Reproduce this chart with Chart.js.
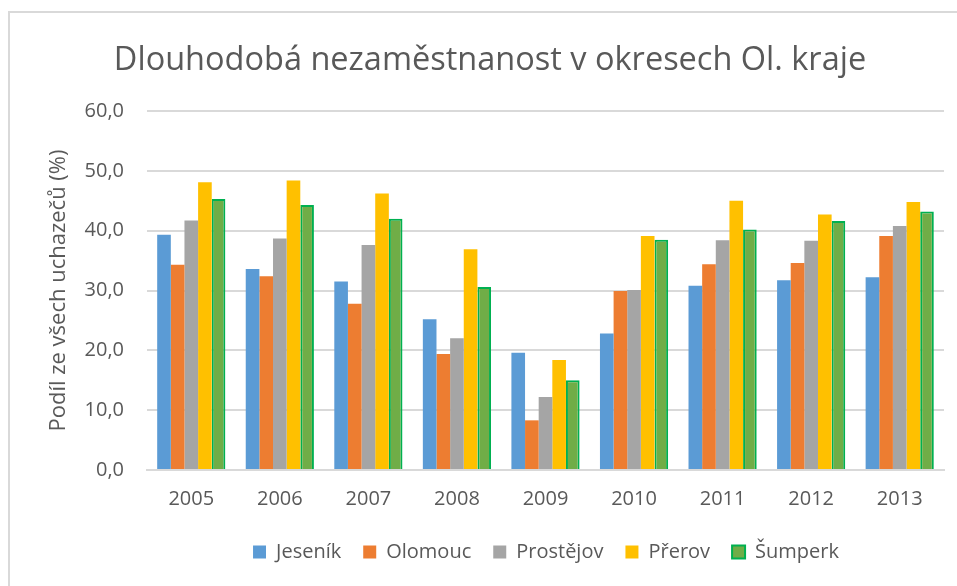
<!DOCTYPE html>
<html lang="cs">
<head>
    <meta charset="UTF-8">
    <title>Dlouhodobá nezaměstnanost v okresech Ol. kraje</title>
    <style>
        body {
            margin: 0;
            background: #ffffff;
            overflow: hidden;
        }
        .frame {
            position: absolute;
            left: 8px;
            top: 11px;
            width: 1000px;
            height: 700px;
            border: 2px solid #d9d9d9;
        }
        .chart-box {
            position: absolute;
            left: 0;
            top: 0;
            width: 957px;
            height: 586px;
        }
    </style>
</head>
<body>
    <div class="frame"></div>
    <div class="chart-box">
        <canvas id="nezamestnanost"></canvas>
    </div>
    <script src="https://cdn.jsdelivr.net/npm/chart.js"></script>
    <script>
        const years = ['2005', '2006', '2007', '2008', '2009', '2010', '2011', '2012', '2013'];
        const jesenik   = [39.3, 33.6, 31.5, 25.2, 19.6, 22.8, 30.8, 31.7, 32.2];
        const olomouc   = [34.3, 32.4, 27.8, 19.4, 8.3, 29.9, 34.4, 34.6, 39.1];
        const prostejov = [41.7, 38.7, 37.6, 22.0, 12.2, 30.1, 38.4, 38.3, 40.8];
        const prerov    = [48.1, 48.4, 46.2, 36.9, 18.4, 39.1, 45.0, 42.7, 44.8];
        const sumperk   = [45.3, 44.3, 42.0, 30.6, 15.0, 38.5, 40.2, 41.6, 43.2];

        const textColor = '#595959';
        const fontFamily = '"Open Sans", "Noto Sans", sans-serif';

        // legend in the original sits under the plot area, not the whole canvas
        const shiftLegend = {
            id: 'shiftLegend',
            afterLayout(chart) {
                const lg = chart.legend;
                if (lg) {
                    lg.left += 56;
                    lg.right += 56;
                }
            }
        };

        const ctx = document.getElementById('nezamestnanost').getContext('2d');
        new Chart(ctx, {
            type: 'bar',
            data: {
                labels: years,
                datasets: [
                    { label: 'Jeseník', data: jesenik, backgroundColor: '#5b9bd5' },
                    { label: 'Olomouc', data: olomouc, backgroundColor: '#ed7d31' },
                    { label: 'Prostějov', data: prostejov, backgroundColor: '#a5a5a5' },
                    { label: 'Přerov', data: prerov, backgroundColor: '#ffc000' },
                    { label: 'Šumperk', data: sumperk, backgroundColor: '#70ad47', borderColor: '#00b050', borderWidth: 2 }
                ]
            },
            options: {
                responsive: true,
                maintainAspectRatio: false,
                animation: false,
                datasets: {
                    bar: { categoryPercentage: 0.77, barPercentage: 1.0 }
                },
                layout: {
                    padding: { left: 36, right: 13, top: 0, bottom: 14 }
                },
                plugins: {
                    title: {
                        display: true,
                        text: 'Dlouhodobá nezaměstnanost v okresech Ol. kraje',
                        color: textColor,
                        font: { family: fontFamily, size: 32.5, weight: 'normal' },
                        padding: { top: 41, bottom: 31 }
                    },
                    legend: {
                        position: 'bottom',
                        labels: {
                            color: textColor,
                            font: { family: fontFamily, size: 20 },
                            boxWidth: 13,
                            boxHeight: 13,
                            padding: 22
                        }
                    },
                    tooltip: { enabled: false }
                },
                scales: {
                    x: {
                        grid: { display: false },
                        border: { display: true, color: '#d9d9d9', width: 2 },
                        ticks: { color: textColor, font: { family: fontFamily, size: 20 }, padding: 9 },
                        afterFit: (scale) => { scale.height = 50; }
                    },
                    y: {
                        min: 0,
                        max: 60,
                        ticks: {
                            stepSize: 10,
                            color: textColor,
                            font: { family: fontFamily, size: 20 },
                            padding: 23,
                            callback: (v) => v.toFixed(1).replace('.', ',')
                        },
                        grid: { color: '#d9d9d9', lineWidth: 2, drawTicks: false },
                        border: { display: false },
                        title: {
                            display: true,
                            text: 'Podíl ze všech uchazečů (%)',
                            color: textColor,
                            font: { family: fontFamily, size: 22 },
                            padding: { top: 10, bottom: 0 }
                        },
                        afterFit: (scale) => { scale.width = 111; }
                    }
                }
            },
            plugins: [shiftLegend]
        });
    </script>
</body>
</html>
